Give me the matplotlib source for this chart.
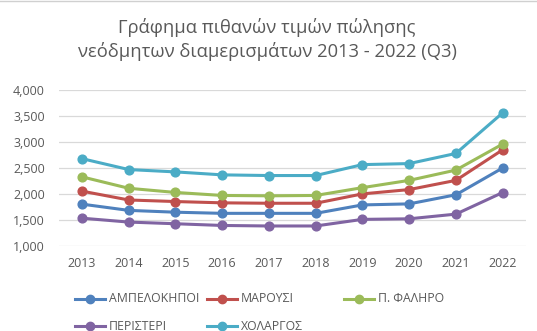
import matplotlib
matplotlib.use("Agg")
import matplotlib.pyplot as plt
from matplotlib.lines import Line2D

years = ["2013", "2014", "2015", "2016", "2017", "2018", "2019", "2020", "2021", "2022"]
ampelokipoi = [1805, 1685, 1650, 1628, 1628, 1628, 1790, 1810, 1985, 2500]
marousi = [2055, 1885, 1855, 1830, 1822, 1822, 2002, 2085, 2262, 2850]
p_faliro = [2330, 2110, 2030, 1972, 1965, 1972, 2122, 2262, 2460, 2960]
peristeri = [1535, 1460, 1428, 1395, 1385, 1385, 1512, 1523, 1613, 2028]
cholargos = [2680, 2470, 2425, 2368, 2355, 2355, 2565, 2585, 2780, 3560]
names = ["ΑΜΠΕΛΟΚΗΠΟΙ", "ΜΑΡΟΥΣΙ", "Π. ΦΑΛΗΡΟ", "ΠΕΡΙΣΤΕΡΙ", "ΧΟΛΑΡΓΟΣ"]
series = [ampelokipoi, marousi, p_faliro, peristeri, cholargos]
colors = ["#4F81BD", "#C0504D", "#9BBB59", "#8064A2", "#4BACC6"]
yticks = [1000, 1500, 2000, 2500, 3000, 3500, 4000]

W, H = 537, 331
fig = plt.figure(figsize=(W / 100, H / 100), dpi=100)
plt.rcParams['font.family'] = ['Open Sans', 'DejaVu Sans']

def px(x0, y0, x1, y1):
    return [x0 / W, 1 - y1 / H, (x1 - x0) / W, (y1 - y0) / H]

ax = fig.add_axes(px(58.6, 90, 526, 246))
x = list(range(len(years)))
for vals, c in zip(series, colors):
    ax.plot(x, vals, color=c, lw=2.2, marker='o', ms=6.3, solid_capstyle='round')

ax.set_xlim(-0.5, len(years) - 0.5)
ax.set_ylim(1000, 4000)
ax.set_yticks(yticks)
ax.set_yticklabels([f"{v:,}" for v in yticks])
ax.set_xticks(x)
ax.set_xticklabels(years)
ax.grid(axis='y', color='#D9D9D9', lw=0.9)
ax.set_axisbelow(True)
for s in ax.spines.values():
    s.set_visible(False)
ax.tick_params(length=0, labelsize=9, colors='#595959')
ax.tick_params(axis='x', pad=8)
ax.tick_params(axis='y', pad=10)

fig.text(267 / W, 1 - 33 / H, "Γράφημα πιθανών τιμών πώλησης", ha='center', va='baseline',
         fontsize=13.2, color='#595959')
fig.text(267 / W, 1 - 57 / H, "νεόδμητων διαμερισμάτων 2013 - 2022 (Q3)", ha='center', va='baseline',
         fontsize=13.2, color='#595959')

# legend drawn manually in figure coords
leg_pos = [(75, 299), (207, 299), (344, 299), (75, 326), (207, 326)]
for (lx, ly), name, c in zip(leg_pos, names, colors):
    fig.add_artist(Line2D([lx / W, (lx + 30) / W], [1 - ly / H, 1 - ly / H], color=c, lw=2.2,
                          transform=fig.transFigure))
    fig.add_artist(Line2D([(lx + 15) / W], [1 - ly / H], color=c, marker='o', ms=6,
                          transform=fig.transFigure))
    fig.text((lx + 34) / W, 1 - ly / H, name, ha='left', va='center', fontsize=8.8, color='#595959')

fig.add_artist(Line2D([0, 1], [1 - 0.5 / H, 1 - 0.5 / H], color='#D0D0D0', lw=1,
                      transform=fig.transFigure))

fig.savefig("out.png", dpi=100)
